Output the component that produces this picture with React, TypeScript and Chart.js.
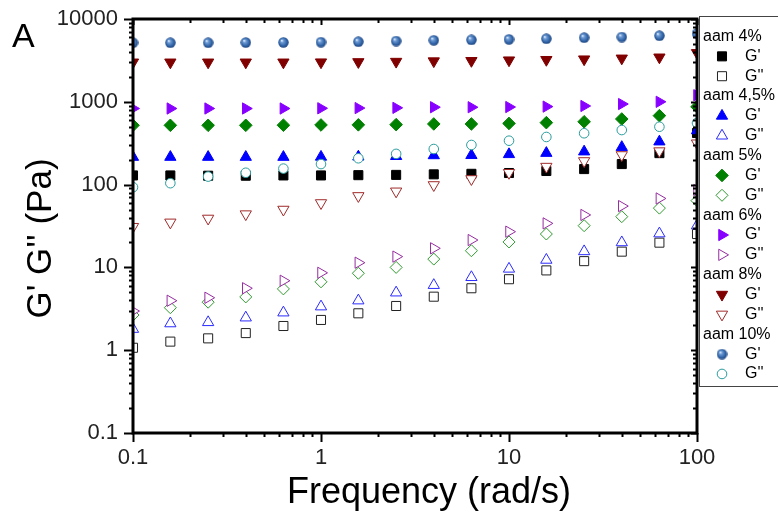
import React, { useEffect, useRef } from "react";
import { Chart, registerables } from "chart.js";
import { drawPoint } from "chart.js/helpers";

Chart.register(...registerables);

// ---------- data ----------
const frequency = [0.1, 0.158, 0.251, 0.398, 0.631, 1, 1.58, 2.51, 3.98, 6.31, 10, 15.8, 25.1, 39.8, 63.1, 100];

const aam4G1 = [129, 129, 128, 128, 129, 129, 130, 131, 133, 135, 138, 146, 154, 177, 240, 420];
const aam4G2 = [1.07, 1.27, 1.39, 1.61, 1.96, 2.32, 2.79, 3.42, 4.43, 5.6, 7.2, 9.2, 11.9, 15.5, 19.9, 25.3];
const aam45G1 = [215, 215, 215, 215, 215, 216, 217, 220, 225, 226, 232, 240, 250, 283, 330, 450];
const aam45G2 = [1.8, 2.1, 2.17, 2.47, 2.84, 3.36, 3.97, 4.95, 6.1, 7.6, 9.6, 12.3, 15.6, 20, 25.6, 32];
const aam5G1 = [520, 520, 520, 520, 522, 525, 527, 530, 540, 540, 548, 560, 574, 620, 680, 870];
const aam5G2 = [2.66, 3.26, 3.8, 4.4, 5.5, 6.7, 8.5, 10, 12.6, 15.9, 20.3, 25.3, 31.9, 41, 52, 64];
const aam6G1 = [830, 830, 830, 830, 830, 835, 840, 845, 860, 860, 865, 875, 890, 940, 1000, 1200];
const aam6G2 = [2.97, 3.96, 4.3, 5.6, 6.9, 8.6, 11.4, 13.5, 17, 21.4, 27, 34, 43, 55, 68, 86];
const aam8G1 = [3000, 3000, 3000, 3000, 3000, 3010, 3030, 3060, 3100, 3130, 3180, 3220, 3270, 3350, 3450, 3900];
const aam8G2 = [31, 35, 39, 44, 50, 60, 73, 83, 99, 117, 139, 165, 193, 228, 254, 316];
const aam10G1 = [5170, 5170, 5170, 5200, 5220, 5250, 5320, 5420, 5530, 5600, 5680, 5780, 5950, 6060, 6280, 6700];
const aam10G2 = [93, 104, 125, 139, 156, 177, 208, 235, 269, 301, 339, 376, 417, 456, 500, 555];

const groupLabels = ["aam 4%", "aam 4,5%", "aam 5%", "aam 6%", "aam 8%", "aam 10%"];
const seriesLabels = ["G'", "G''"];
const xTickValues = [0.1, 1, 10, 100];
const yTickValues = [0.1, 1, 10, 100, 1000, 10000];

const seriesValues = [aam4G1, aam4G2, aam45G1, aam45G2, aam5G1, aam5G2, aam6G1, aam6G2, aam8G1, aam8G2, aam10G1, aam10G2];

const FONT = "'Liberation Sans', Arial, sans-serif";

function makeSphere(): HTMLCanvasElement {
  const c = document.createElement("canvas");
  c.width = 11;
  c.height = 11;
  const g = c.getContext("2d")!;
  const grad = g.createRadialGradient(3.8, 3.6, 0.3, 5.5, 5.5, 5.6);
  grad.addColorStop(0, "#dfeeff");
  grad.addColorStop(0.25, "#6d9ad3");
  grad.addColorStop(0.7, "#2f62a6");
  grad.addColorStop(1, "#1a3f78");
  g.fillStyle = grad;
  g.beginPath();
  g.arc(5.5, 5.5, 5.2, 0, Math.PI * 2);
  g.fill();
  return c;
}

type Style = { pointStyle: any; rotation: number; radius: number; color: string; filled: boolean };

export default function App() {
  const ref = useRef<HTMLCanvasElement | null>(null);

  useEffect(() => {
    document.body.style.margin = "0";
    const sphere = makeSphere();
    const styles: Style[] = [
      { pointStyle: "rect", rotation: 0, radius: 6.4, color: "#000000", filled: true },
      { pointStyle: "rect", rotation: 0, radius: 6.4, color: "#222222", filled: false },
      { pointStyle: "triangle", rotation: 0, radius: 6.5, color: "#0000ff", filled: true },
      { pointStyle: "triangle", rotation: 0, radius: 6.5, color: "#2a2aff", filled: false },
      { pointStyle: "rectRot", rotation: 0, radius: 6.3, color: "#008000", filled: true },
      { pointStyle: "rectRot", rotation: 0, radius: 6, color: "#2f9a2f", filled: false },
      { pointStyle: "triangle", rotation: 90, radius: 6.5, color: "#8800ff", filled: true },
      { pointStyle: "triangle", rotation: 90, radius: 6.5, color: "#952c9f", filled: false },
      { pointStyle: "triangle", rotation: 180, radius: 6.5, color: "#800000", filled: true },
      { pointStyle: "triangle", rotation: 180, radius: 6.5, color: "#a02a2a", filled: false },
      { pointStyle: sphere, rotation: 0, radius: 5, color: "#2f62a6", filled: true },
      { pointStyle: "circle", rotation: 0, radius: 4.8, color: "#2a9d9d", filled: false },
    ];

    const datasets = seriesValues.map((vals, i) => {
      const s = styles[i];
      return {
        label: groupLabels[Math.floor(i / 2)] + " " + seriesLabels[i % 2],
        data: frequency.map((f, k) => ({ x: f, y: vals[k] })),
        pointStyle: s.pointStyle,
        pointRotation: s.rotation,
        pointRadius: s.radius,
        pointBackgroundColor: s.filled ? s.color : "#ffffff",
        pointBorderColor: s.color,
        pointBorderWidth: 1,
        showLine: false,
        clip: 0,
        order: seriesValues.length - i,
      };
    });

    const decor = {
      id: "decor",
      afterDatasetsDraw(chart: any) {
        const { ctx, chartArea: a, scales } = chart;
        const xs = scales.x;
        const ys = scales.y;
        ctx.save();
        ctx.strokeStyle = "#000";
        ctx.lineWidth = 2;
        ctx.beginPath();
        for (let d = -1; d <= 2; d++) {
          for (let m = 1; m <= 9; m++) {
            const v = m * Math.pow(10, d);
            if (v > 100.0001) break;
            const px = Math.round(xs.getPixelForValue(v)) + 0.5;
            const major = m === 1;
            ctx.moveTo(px, a.bottom);
            ctx.lineTo(px, a.bottom + (major ? 9 : 4));
            ctx.moveTo(px, a.top);
            ctx.lineTo(px, a.top + (major ? 6 : 4));
          }
        }
        for (let d = -1; d <= 4; d++) {
          for (let m = 1; m <= 9; m++) {
            const v = m * Math.pow(10, d);
            if (v > 10000.001) break;
            const py = Math.round(ys.getPixelForValue(v)) + 0.5;
            const major = m === 1;
            ctx.moveTo(a.left - (major ? 9 : 4), py);
            ctx.lineTo(a.left, py);
            ctx.moveTo(a.right - (major ? 6 : 4), py);
            ctx.lineTo(a.right, py);
          }
        }
        ctx.stroke();
        ctx.lineWidth = 3;
        ctx.strokeRect(a.left, a.top, a.right - a.left, a.bottom - a.top);

        // legend box
        const lx = 699.5;
        const ly = 16.5;
        ctx.fillStyle = "#ffffff";
        ctx.fillRect(lx, ly, 100, 370);
        ctx.lineWidth = 1;
        ctx.strokeStyle = "#444";
        ctx.strokeRect(lx, ly, 100, 370);
        ctx.font = "16px " + FONT;
        ctx.textBaseline = "middle";
        ctx.textAlign = "left";
        const step = 19.85;
        let row = 0;
        const top = 36.5;
        for (let gi = 0; gi < groupLabels.length; gi++) {
          ctx.fillStyle = "#000";
          ctx.fillText(groupLabels[gi], 703, top + row * step);
          row++;
          for (let si = 0; si < 2; si++) {
            const idx = gi * 2 + si;
            const s = styles[idx];
            const cy = top + row * step;
            ctx.fillStyle = s.filled ? s.color : "#ffffff";
            ctx.strokeStyle = s.color;
            ctx.lineWidth = 1;
            drawPoint(ctx, { pointStyle: s.pointStyle, rotation: s.rotation, radius: s.radius, borderWidth: 1 } as any, 722, cy);
            ctx.fillStyle = "#000";
            ctx.fillText(seriesLabels[si], 745, cy);
            row++;
          }
        }

        // panel label and axis titles
        ctx.fillStyle = "#000";
        ctx.textBaseline = "alphabetic";
        ctx.font = "34px " + FONT;
        ctx.textAlign = "left";
        ctx.fillText("A", 12, 47);

        ctx.font = "36px " + FONT;
        ctx.textAlign = "center";
        ctx.fillText("Frequency (rad/s)", 429, 503);

        ctx.save();
        ctx.translate(51, 238.5);
        ctx.rotate(-Math.PI / 2);
        ctx.font = "35px " + FONT;
        ctx.fillText("G' G'' (Pa)", 0, 0);
        ctx.restore();

        ctx.restore();
      },
    };

    const chart = new Chart(ref.current!, {
      type: "scatter",
      data: { datasets: datasets as any },
      options: {
        responsive: false,
        animation: false,
        layout: { padding: { left: 0, top: 19, right: 81, bottom: 0 } },
        plugins: { legend: { display: false }, tooltip: { enabled: false } },
        scales: {
          x: {
            type: "logarithmic",
            min: 0.1,
            max: 100,
            grid: { display: false, drawTicks: false },
            border: { display: false },
            afterBuildTicks: (s: any) => {
              s.ticks = xTickValues.map((v) => ({ value: v, major: true }));
            },
            afterFit: (s: any) => {
              s.height = 87;
              s.paddingLeft = 0;
              s.paddingRight = 0;
            },
            ticks: {
              autoSkip: false,
              maxRotation: 0,
              padding: 12,
              color: "#222",
              font: { family: FONT, size: 22 },
              callback: (v: any) => String(v),
            },
          },
          y: {
            type: "logarithmic",
            min: 0.1,
            max: 10000,
            grid: { display: false, drawTicks: false },
            border: { display: false },
            afterBuildTicks: (s: any) => {
              s.ticks = yTickValues.map((v) => ({ value: v, major: true }));
            },
            afterFit: (s: any) => {
              s.width = 133;
              s.paddingTop = 0;
              s.paddingBottom = 0;
            },
            ticks: {
              autoSkip: false,
              padding: 15,
              color: "#222",
              font: { family: FONT, size: 22 },
              callback: (v: any) => String(v),
            },
          },
        },
      },
      plugins: [decor],
    });
    return () => chart.destroy();
  }, []);

  return (
    <div style={{ position: "absolute", left: 0, top: 0, width: 778, height: 520 }}>
      <canvas ref={ref} width={778} height={520} style={{ display: "block" }} />
    </div>
  );
}
